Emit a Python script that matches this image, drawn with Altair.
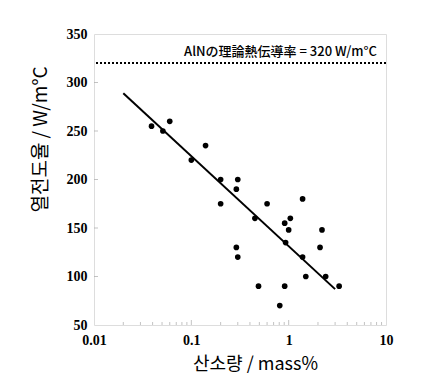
import altair as alt
import pandas as pd

# measured data points
oxygen = [0.039, 0.051, 0.060, 0.10, 0.14, 0.20, 0.20, 0.29, 0.30, 0.29, 0.30,
          0.45, 0.49, 0.60, 0.81, 0.91, 0.91, 0.93, 1.0, 1.04, 1.39, 1.39, 1.5,
          2.1, 2.2, 2.4, 3.3]
conductivity = [255, 250, 260, 220, 235, 200, 175, 190, 200, 130, 120,
                160, 90, 175, 70, 155, 90, 135, 148, 160, 180, 120, 100,
                130, 148, 100, 90]

# regression line end points
fit_x = [0.02, 3.0]
fit_y = [289, 87]

# theoretical value
theory_y = [320]
theory_label = ["AlNの理論熱伝導率 = 320 W/m°C"]

# tick values
x_labels = [0.01, 0.1, 1, 10]
x_minor = [0.02, 0.03, 0.04, 0.05, 0.06, 0.07, 0.08, 0.09,
           0.2, 0.3, 0.4, 0.5, 0.6, 0.7, 0.8, 0.9,
           2, 3, 4, 5, 6, 7, 8, 9]
x_major = [0.1, 1]
y_labels = [50, 100, 150, 200, 250, 300, 350]
y_minor = [100, 150, 200, 250, 300]

W, H = 292, 291
SERIF = "Liberation Serif, Times New Roman, DejaVu Serif, serif"

pts = pd.DataFrame({"x": oxygen, "y": conductivity})
fit = pd.DataFrame({"x": fit_x, "y": fit_y})
theory = pd.DataFrame({"y": theory_y, "label": theory_label})
xmin = pd.DataFrame({"x": x_minor})
xmaj = pd.DataFrame({"x": x_major})
ymin = pd.DataFrame({"y": y_minor})

xscale = alt.Scale(type="log", domain=[0.01, 10], nice=False)
yscale = alt.Scale(domain=[50, 350], nice=False, zero=False)

xaxis = alt.Axis(values=x_labels, labelExpr="datum.value >= 1 ? format(datum.value, 'd') : format(datum.value, '.2~f')",
                 title="산소량 / mass%", grid=False, ticks=False, tickSize=0, domain=False,
                 labelFont=SERIF, labelFontWeight="bold", labelFontSize=14,
                 labelColor="black", labelPadding=8, labelFlush=False,
                 titleFont="Noto Sans CJK KR", titleFontWeight="normal", titleFontSize=18,
                 titleColor="black", titleX=161, titleY=30, titleBaseline="top")
yaxis = alt.Axis(values=y_labels, title="열전도율 / W/m°C", grid=False, ticks=False, tickSize=0,
                 domain=False, labelFont=SERIF, labelFontWeight="bold",
                 labelFontSize=14, labelColor="black", labelPadding=7,
                 titleFont="Noto Sans CJK KR", titleFontWeight="normal", titleFontSize=19,
                 titleColor="black", titleX=-44, titleY=105)

base_pts = alt.Chart(pts).mark_circle(size=32, color="black", opacity=1).encode(
    x=alt.X("x:Q", scale=xscale, axis=xaxis),
    y=alt.Y("y:Q", scale=yscale, axis=yaxis),
)

fit_line = alt.Chart(fit).mark_line(color="black", strokeWidth=2).encode(
    x=alt.X("x:Q", scale=xscale),
    y=alt.Y("y:Q", scale=yscale),
)

theory_rule = alt.Chart(theory).mark_rule(color="black", strokeWidth=2, strokeDash=[2, 2]).encode(
    y=alt.Y("y:Q", scale=yscale),
)

theory_text = alt.Chart(theory).mark_text(
    align="right", baseline="middle", dx=-9, dy=-11,
    font="Noto Sans CJK JP", fontSize=13, fontWeight=500, color="black",
).encode(
    x=alt.value(W),
    y=alt.Y("y:Q", scale=yscale),
    text="label:N",
)

xminor_ticks = alt.Chart(xmin).mark_tick(color="#aaaaaa", size=3, thickness=1, yOffset=-1.5).encode(
    x=alt.X("x:Q", scale=xscale),
    y=alt.value(H),
)
xmajor_ticks = alt.Chart(xmaj).mark_tick(color="#aaaaaa", size=5, thickness=1, yOffset=-2.5).encode(
    x=alt.X("x:Q", scale=xscale),
    y=alt.value(H),
)
yminor_ticks = alt.Chart(ymin).mark_tick(color="#aaaaaa", size=4, thickness=1, xOffset=2).encode(
    y=alt.Y("y:Q", scale=yscale),
    x=alt.value(0),
)

chart = alt.layer(
    xminor_ticks, xmajor_ticks, yminor_ticks, theory_rule, theory_text, fit_line, base_pts
).properties(
    width=W, height=H,
    autosize=alt.AutoSizeParams(type="none"),
    padding={"left": 86, "top": 26, "right": 30, "bottom": 60},
).configure_view(
    stroke="#c8c8c8", strokeWidth=1
).configure(background="white")

chart.save("out.html", embed_options={"renderer": "svg", "actions": False})
